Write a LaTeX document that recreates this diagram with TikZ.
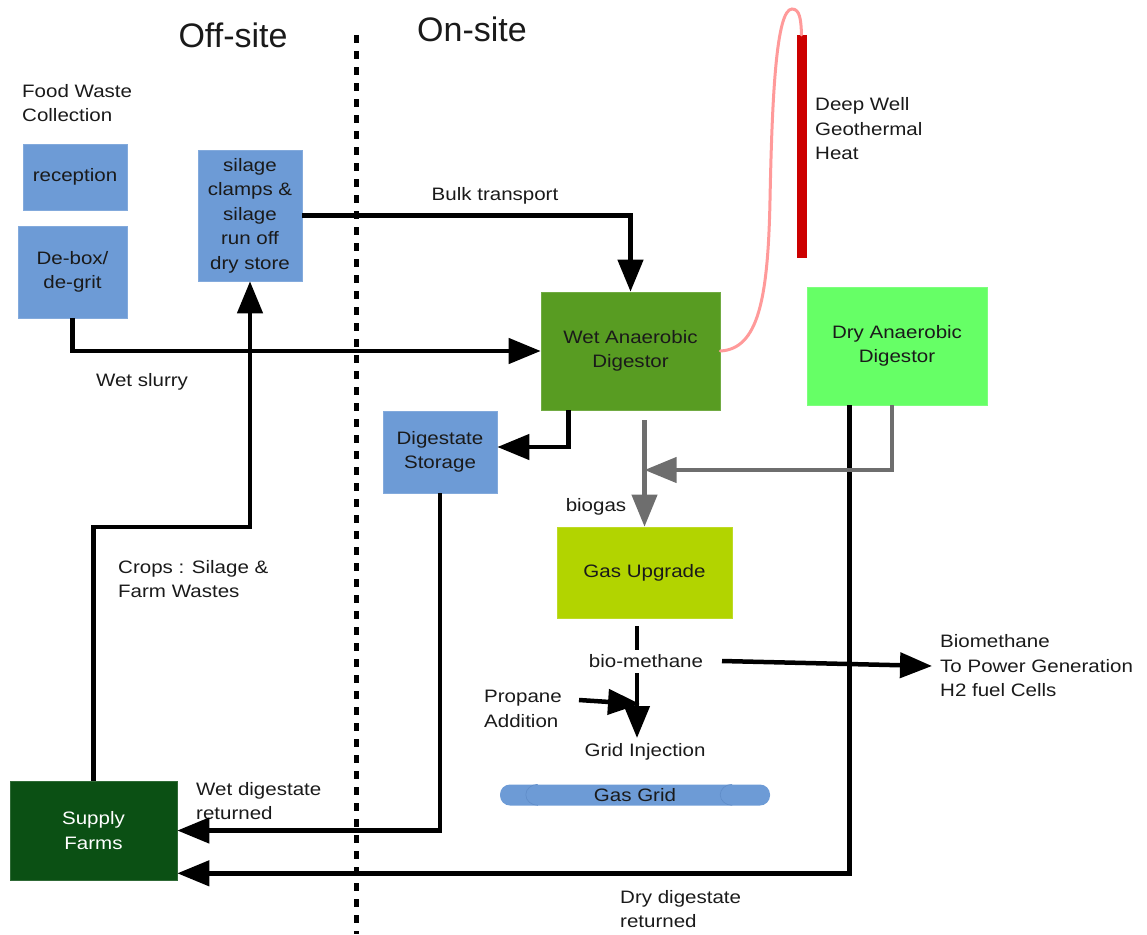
\documentclass[tikz,border=0pt]{standalone}
\usepackage{fontspec}
\setmainfont{Liberation Sans}
\newfontfamily\bodyfont[FakeStretch=1.14]{Liberation Sans}
\usetikzlibrary{arrows.meta,calc}
\definecolor{boxblue}{HTML}{6D9BD6}
\definecolor{wetgreen}{HTML}{589C22}
\definecolor{drygreen}{HTML}{66FF66}
\definecolor{upgr}{HTML}{B2D400}
\definecolor{farmgreen}{HTML}{0B5014}
\definecolor{redbar}{HTML}{CC0000}
\definecolor{pinkpipe}{HTML}{FF9A9A}
\definecolor{grayarrow}{HTML}{6E6E6E}
\definecolor{txt}{HTML}{1A1A1A}
\definecolor{gridedge}{HTML}{5F8CC8}
\begin{document}
\begin{tikzpicture}[x=1pt,y=-1pt,
  font=\bodyfont\fontsize{18}{24.5}\selectfont,
  every node/.style={text=txt},
  boxnode/.style={rectangle, inner sep=0pt, align=center, draw=#1!85!white, line width=0.6pt, fill=#1},
  lbl/.style={align=left, inner sep=0pt},
  title/.style={font=\fontsize{34}{40}\selectfont},
  flow/.style={line width=4.5pt, draw=black, -{Triangle[length=32pt,width=25pt]}},
  flowline/.style={line width=4.5pt, draw=black},
  gflow/.style={line width=4.2pt, draw=grayarrow, -{Triangle[length=32pt,width=25pt]}},
  gline/.style={line width=4.2pt, draw=grayarrow}]
\useasboundingbox (0,0) rectangle (1147,934);

% dividing line
\coordinate (divtop) at (356,35);
\coordinate (divbot) at (356,934);
\draw[line width=5pt, dash pattern=on 8pt off 8pt] (divtop) -- (divbot);
\node[title] (off) at (233,35) {Off-site};
\node[title] (on) at (472,29) {On-site};

% geothermal
\coordinate (rtop) at (801.5,35);
\coordinate (rbot) at (801.5,258);
\draw[line width=10pt, draw=redbar] (rtop) -- (rbot);
\node[lbl, anchor=west] (geo) at (815,129) {Deep Well\\Geothermal\\Heat};

% boxes
\node[boxnode=boxblue, minimum width=104pt, minimum height=66pt] (rec) at (75,177) {reception};
\node[boxnode=boxblue, minimum width=109pt, minimum height=92pt] (debox) at (72.5,272) {De-box/\\de-grit};
\node[boxnode=boxblue, minimum width=104pt, minimum height=131pt] (silage) at (250,215.5) {silage\\clamps \&\\silage\\run off\\dry store};
\node[boxnode=wetgreen, minimum width=179pt, minimum height=118pt] (wet) at (630.5,351) {Wet Anaerobic\\Digestor};
\node[boxnode=drygreen, minimum width=180pt, minimum height=118pt] (dry) at (897,346) {Dry Anaerobic\\Digestor};
\node[boxnode=boxblue, minimum width=114pt, minimum height=82pt] (dig) at (440,452) {Digestate\\Storage};
\node[boxnode=upgr, minimum width=175pt, minimum height=91pt] (gas) at (644.5,572.5) {Gas Upgrade};
\node[boxnode=farmgreen, minimum width=167pt, minimum height=99pt, text=white] (farms) at (93.5,830.5) {Supply\\Farms};

% gas grid
\node[rectangle, rounded corners=10pt, fill=boxblue, minimum width=270pt, minimum height=21pt, inner sep=0pt] (grid) at (635,795) {Gas Grid};
\draw[gridedge, line width=0.6pt] ($(grid.north west)+(38,0)$) arc[start angle=90, end angle=270, x radius=12pt, y radius=10.5pt];
\draw[gridedge, line width=0.6pt] ($(grid.north east)+(-38,0)$) arc[start angle=90, end angle=-90, x radius=-12pt, y radius=10.5pt];

% pink pipe
\draw[line width=3pt, pinkpipe, line cap=round] (wet.east) .. controls (758,349) and (768,300) .. (770,200) .. controls (772,100) and (776,9) .. (792,9) .. controls (800,9) and (801,20) .. (rtop);

% text labels
\node[lbl, anchor=north west] (food) at (22,84) {Food Waste\\Collection};
\node (bulk) at (495,196) {Bulk transport};
\node (slurry) at (142,382) {Wet slurry};
\node[lbl, anchor=west] (crops) at (118,579) {Crops : Silage \&\\Farm Wastes};
\node[lbl, anchor=west] (wetret) at (196,801) {Wet digestate\\returned};
\node[lbl, anchor=west] (dryret) at (620,909) {Dry digestate\\returned};
\node (biogas) at (596,507) {biogas};
\node (bm) at (646,661) {bio-methane};
\node[lbl, anchor=west] (prop) at (484,709) {Propane\\Addition};
\node (gi) at (645,752) {Grid Injection};
\node[lbl, anchor=west] (bio) at (940,666) {Biomethane\\To Power Generation\\H2 fuel Cells};

% connectors
\coordinate (bulkturn) at (wet.north |- silage.east);
\draw[flow] (silage.east) -- (bulkturn) -- (wet.north);
\draw[flow] (debox.south) |- (wet.west);
\coordinate (cropturn) at (farms.north |- 0,527);
\draw[flow] (farms.north) -- (cropturn) -| (silage.south);
\coordinate (wetout) at ($(wet.south west)+(28,0)$);
\coordinate (digin) at ($(dig.east)+(0,-5)$);
\draw[flow] (wetout) |- (digin);
\draw[flow] (dig.south) |- (farms.east);
\coordinate (dryout) at ($(dry.south west)+(43,0)$);
\coordinate (farmin) at ($(farms.south east)+(0,-7)$);
\draw[flow] (dryout) |- (farmin);

\coordinate (gasout) at ($(wet.south)+(14,10)$);
\draw[gflow] (gasout) -- (gas.north);
\coordinate (dryg) at ($(dry.south east)+(-95,0)$);
\coordinate (join) at (gas.north |- 0,470);
\draw[gflow] (dryg) |- (join);

\coordinate (bm1) at (637,626);
\coordinate (bm2) at (637,650);
\draw[flowline] (bm1) -- (bm2);
\coordinate (bm3) at (637,673);
\coordinate (bm4) at (637,738);
\draw[flow] (bm3) -- (bm4);
\coordinate (pr1) at (579,700);
\coordinate (pr2) at (640,704);
\draw[flow] (pr1) -- (pr2);
\coordinate (bmr) at (722,661);
\draw[flow] (bmr) -- ($(bio.west)+(-8,0)$);
\end{tikzpicture}
\end{document}
